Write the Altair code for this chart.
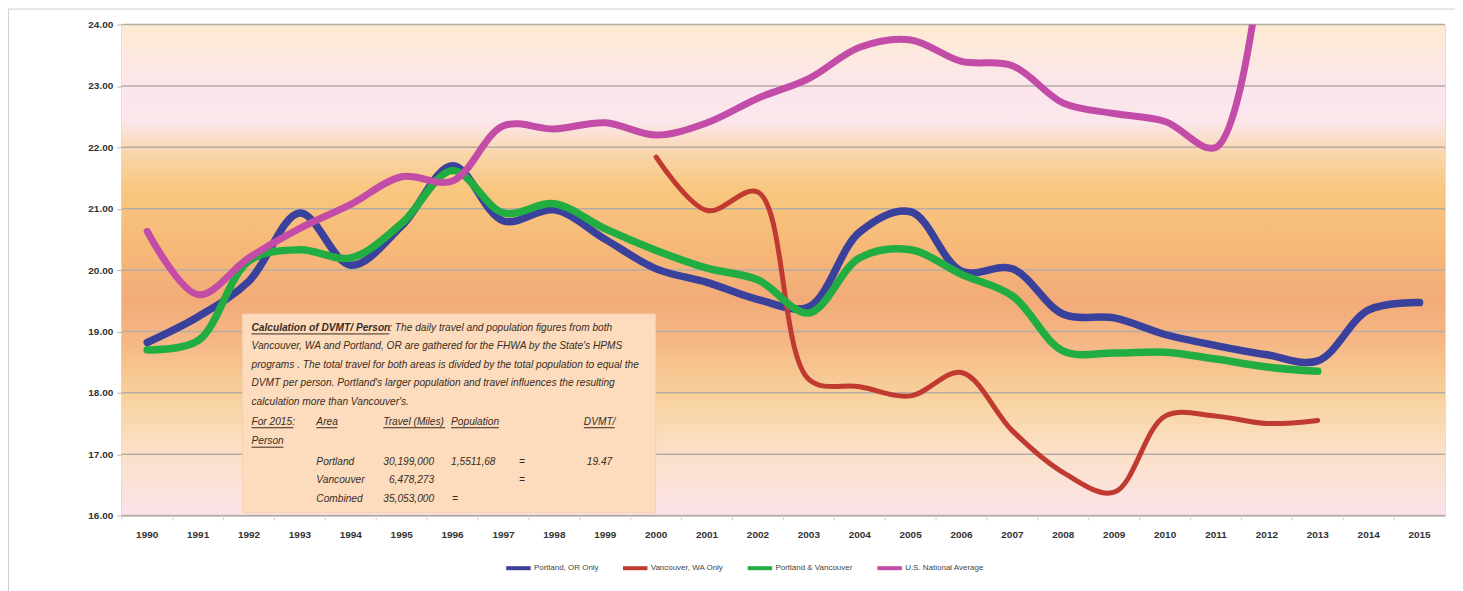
import altair as alt
import pandas as pd

years = list(range(1990, 2016))
portland = [18.82, 19.24, 19.82, 20.93, 20.08, 20.72, 21.70, 20.80, 20.98, 20.50,
            20.02, 19.80, 19.52, 19.40, 20.62, 20.95, 19.98, 20.02, 19.28, 19.22,
            18.95, 18.77, 18.62, 18.52, 19.35, 19.47]
vancouver_years = list(range(2000, 2014))
vancouver = [21.84, 20.97, 21.27, 18.22, 18.10, 17.95, 18.33, 17.38, 16.70, 16.38,
             17.62, 17.62, 17.50, 17.55]
combined_years = list(range(1990, 2014))
combined = [18.70, 18.85, 20.15, 20.33, 20.20, 20.76, 21.62, 20.93, 21.08, 20.67,
            20.32, 20.03, 19.84, 19.30, 20.20, 20.33, 19.93, 19.58, 18.68, 18.65,
            18.66, 18.55, 18.42, 18.35]
us_years = list(range(1990, 2013))
us_avg = [20.63, 19.60, 20.20, 20.68, 21.07, 21.52, 21.45, 22.35, 22.30, 22.40,
          22.20, 22.40, 22.80, 23.12, 23.63, 23.75, 23.40, 23.33, 22.72, 22.55,
          22.42, 22.00, 25.80]

series_names = ["Portland, OR Only", "Vancouver, WA Only", "Portland & Vancouver",
                "U.S. National Average"]
series_colors = ["#3a419c", "#c13a31", "#22ad43", "#c24ca8"]
y_ticks = [16, 17, 18, 19, 20, 21, 22, 23, 24]

rows = []
for name, yrs, vals in [(series_names[0], years, portland),
                        (series_names[1], vancouver_years, vancouver),
                        (series_names[2], combined_years, combined),
                        (series_names[3], us_years, us_avg)]:
    for yr, v in zip(yrs, vals):
        rows.append({"year": str(yr), "value": v, "series": name})
df = pd.DataFrame(rows)
year_df = pd.DataFrame({"year": [str(y) for y in years]})
grid_df = pd.DataFrame({"v": y_ticks})

W, H = 1326, 492
FONT = "Liberation Sans"

xscale = alt.Scale(type="band", domain=[str(y) for y in years], paddingInner=0, paddingOuter=0)
yscale = alt.Scale(domain=[16, 24], nice=False, zero=False)
cscale = alt.Scale(domain=series_names, range=series_colors)

xaxis = alt.Axis(title=None, labelAngle=0, ticks=False, labelPadding=14, labelFont=FONT,
                 labelFontSize=10, labelFontWeight="bold", labelColor="#333333",
                 domainColor="#c8c0c0", domainWidth=1.5, grid=False)
yaxis = alt.Axis(title=None, values=y_ticks, format=".2f", grid=False, labelFont=FONT,
                 labelFontSize=10, labelFontWeight="bold", labelColor="#333333",
                 tickColor="#b8b0a8", tickSize=5, labelPadding=4,
                 domainColor="#c0b8b0", domainWidth=1.5)
legend = alt.Legend(title=None, orient="none", legendX=383, legendY=530, direction="horizontal",
                    symbolType="stroke", symbolStrokeWidth=4, symbolSize=600,
                    labelFont=FONT, labelFontSize=8, labelColor="#444444",
                    columnPadding=16, labelOffset=1, padding=0)

gradient = alt.Gradient(
    gradient="linear", x1=0, y1=0, x2=0, y2=1,
    stops=[
        alt.GradientStop(offset=0.0, color="#fdebd3"),
        alt.GradientStop(offset=0.08, color="#fce8e2"),
        alt.GradientStop(offset=0.14, color="#fbe5ee"),
        alt.GradientStop(offset=0.20, color="#fbe7ea"),
        alt.GradientStop(offset=0.26, color="#fad6ad"),
        alt.GradientStop(offset=0.33, color="#f8c880"),
        alt.GradientStop(offset=0.45, color="#f6b978"),
        alt.GradientStop(offset=0.56, color="#f2ab78"),
        alt.GradientStop(offset=0.65, color="#f5b886"),
        alt.GradientStop(offset=0.75, color="#f8d09a"),
        alt.GradientStop(offset=0.86, color="#fbe0c4"),
        alt.GradientStop(offset=1.0, color="#fbe3ea"),
    ])

dummy = alt.Data(values=[{"a": 1}])

bg = alt.Chart(dummy).mark_rect(fill=gradient).encode(
    x=alt.value(0), x2=alt.value(W), y=alt.value(0), y2=alt.value(H))

grid = alt.Chart(grid_df).mark_rule(color="#b5aca4", strokeWidth=1.5).encode(
    y=alt.Y("v:Q", scale=yscale, axis=yaxis))

xticks = alt.Chart(year_df).mark_rule(color="#d8d0d0", strokeWidth=1).encode(
    x=alt.X("year:O", scale=xscale, axis=xaxis, bandPosition=0),
    y=alt.value(H), y2=alt.value(H + 5))

frame_top = alt.Chart(dummy).mark_rule(color="#d0d0d0", strokeWidth=1).encode(
    x=alt.value(-114), x2=alt.value(W + 12), y=alt.value(-15.5))
frame_left = alt.Chart(dummy).mark_rule(color="#d0d0d0", strokeWidth=1).encode(
    x=alt.value(-113.5), y=alt.value(-15.5), y2=alt.value(590))

def line(name, width):
    return alt.Chart(df).transform_filter(alt.datum.series == name).mark_line(
        interpolate="catmull-rom", strokeWidth=width, clip=True, strokeCap="round"
    ).encode(
        x=alt.X("year:O", scale=xscale, axis=xaxis),
        y=alt.Y("value:Q", scale=yscale, axis=yaxis),
        color=alt.Color("series:N", scale=cscale, legend=legend),
    )

lines = [line(series_names[0], 7.5), line(series_names[1], 5),
         line(series_names[2], 7.5), line(series_names[3], 7)]

# annotation box
box = alt.Chart(dummy).mark_rect(fill="#fcdcbc", stroke="#f3cfae", strokeWidth=1).encode(
    x=alt.value(121), x2=alt.value(535), y=alt.value(290), y2=alt.value(489))

TXT = "#3a2c24"
FS = 10.2
def txt(s, x, y, bold=False, align="left"):
    return alt.Chart(dummy).mark_text(
        text=s, font=FONT, fontSize=FS, fontStyle="italic",
        fontWeight="bold" if bold else "normal", color=TXT, align=align, baseline="middle"
    ).encode(x=alt.value(x), y=alt.value(y))

def uline(x1, x2, y):
    return alt.Chart(dummy).mark_rule(color=TXT, strokeWidth=1).encode(
        x=alt.value(x1), x2=alt.value(x2), y=alt.value(y))

L = 130
r = [304, 322.5, 341, 359.5, 378, 398, 417.5, 438, 456.5, 475]
BW = 138
texts = [
    txt("Calculation of  DVMT/ Person", L, r[0], bold=True),
    uline(L, L + BW, r[0] + 6),
    txt(":  The daily travel and population figures from both", L + BW, r[0]),
    txt("Vancouver, WA and Portland, OR are gathered for the FHWA by the State's HPMS", L, r[1]),
    txt("programs . The total travel for both areas is divided by the total population to equal the", L, r[2]),
    txt("DVMT per person.  Portland's larger population and travel  influences the resulting", L, r[3]),
    txt("calculation more than Vancouver's.", L, r[4]),
    txt("For 2015:", L, r[5]), uline(L, L + 42, r[5] + 6),
    txt("Area", 195, r[5]), uline(195, 216, r[5] + 6),
    txt("Travel (Miles)", 262, r[5]), uline(262, 324, r[5] + 6),
    txt("Population", 330, r[5]), uline(330, 378, r[5] + 6),
    txt("DVMT/", 463, r[5]), uline(463, 494, r[5] + 6),
    txt("Person", L, r[6]), uline(L, L + 32, r[6] + 6),
    txt("Portland", 195, r[7]), txt("30,199,000", 313, r[7], align="right"),
    txt("1,5511,68", 330, r[7]), txt("=", 398, r[7]), txt("19.47", 466, r[7]),
    txt("Vancouver", 195, r[8]), txt("6,478,273", 313, r[8], align="right"),
    txt("=", 398, r[8]),
    txt("Combined", 195, r[9]), txt("35,053,000", 313, r[9], align="right"),
    txt("=", 331, r[9]),
]

chart = alt.layer(bg, grid, xticks, frame_top, frame_left, *lines, box, *texts).properties(
    width=W, height=H,
    autosize=alt.AutoSizeParams(type="none"),
    padding={"left": 114, "top": 16, "right": 10, "bottom": 75},
).configure_view(stroke=None).configure(background="white")

chart.save("out.html", embed_options={"renderer": "svg", "actions": False})
